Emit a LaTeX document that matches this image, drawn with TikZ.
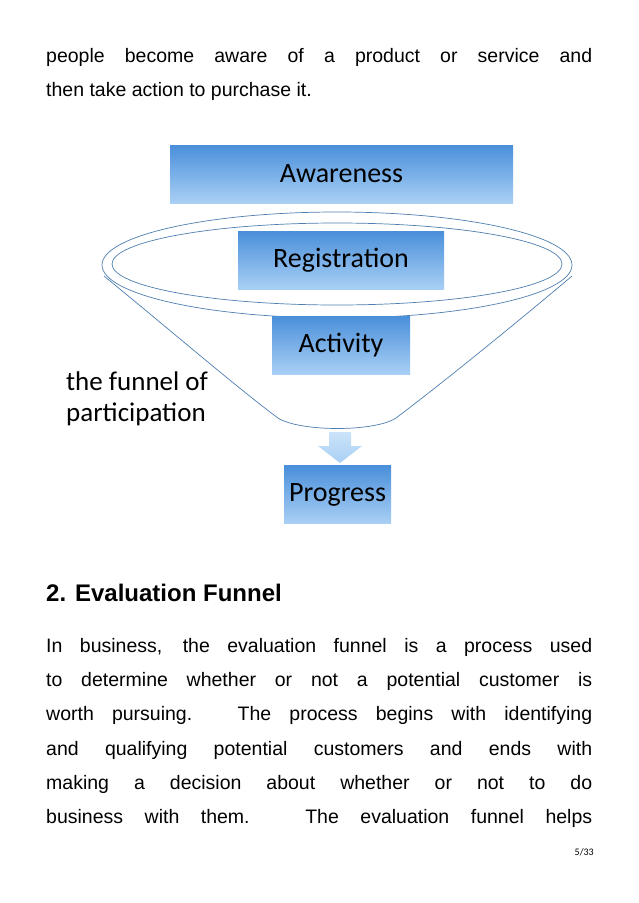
\documentclass[tikz,border=0pt]{standalone}
\usepackage{fontspec}
\setmainfont{Liberation Sans}
\newfontfamily\diag{Carlito}
\definecolor{boxtop}{HTML}{4A8FDA}
\definecolor{boxbot}{HTML}{A9D0F5}
\definecolor{func}{HTML}{4F7FB0}
\newcommand{\jline}[1]{\makebox[546pt][s]{#1}}
\tikzset{
 box/.style={draw=none, top color=boxtop, bottom color=boxbot, minimum height=58pt, font=\diag\fontsize{28}{30}\selectfont, inner sep=0pt},
 para/.style={anchor=north west, align=left, inner sep=0pt, font=\fontsize{19.5}{34.3}\selectfont},
 fun/.style={draw=func, line width=0.7pt}
}
\begin{document}
\begin{tikzpicture}[x=1pt,y=1pt]
\path[fill=white] (0,0) rectangle (638,-903);
\useasboundingbox (0,0) rectangle (638,-903);
\node[para] (p1) at (46,-48) {\jline{people become aware of a product or service and}\\then take action to purchase it.};
% funnel
\draw[fun] (337,-265) ellipse [x radius=235, y radius=53];
\draw[fun] (337,-264) ellipse [x radius=225, y radius=41];
\draw[fun] (104,-276) .. controls (170,-330) and (240,-390) .. (278,-418) .. controls (300,-432) and (375,-432) .. (396,-418) .. controls (440,-385) and (520,-320) .. (572,-276);
\node[box, minimum width=343pt] (aw) at (341.5,-174) {Awareness};
\node[box, minimum width=206pt] (reg) at (341,-260) {Registration};
\node[box, minimum width=138pt] (act) at (341,-345) {Activity};
\node[box, minimum width=107pt] (prog) at (337.5,-494.5) {Progress};
\coordinate (arr) at (340,-447);
\path[top color=boxbot!60!white, bottom color=boxbot, draw=none] (329,-432) -- (351,-432) -- (351,-446) -- (362,-446) -- (340,-463) -- (318,-446) -- (329,-446) -- cycle;
\node[anchor=west, align=left, font=\diag\fontsize{27}{31}\selectfont, inner sep=0pt] (lab) at (66,-399) {the funnel of\\participation};
\node[anchor=west, inner sep=0pt, font=\bfseries\fontsize{24}{26}\selectfont] (h) at (46,-593) {2. Evaluation Funnel};
\node[para] (p2) at (46,-638) {\jline{In business, the evaluation funnel is a process used}\\
\jline{to determine whether or not a potential customer is}\\
\jline{worth pursuing. The process begins with identifying}\\
\jline{and qualifying potential customers and ends with}\\
\jline{making a decision about whether or not to do}\\
\jline{business with them. The evaluation funnel helps}};
\node[anchor=east, inner sep=0pt, font=\diag\fontsize{10}{10}\selectfont] (pg) at (594,-852) {5/33};
\end{tikzpicture}
\end{document}
